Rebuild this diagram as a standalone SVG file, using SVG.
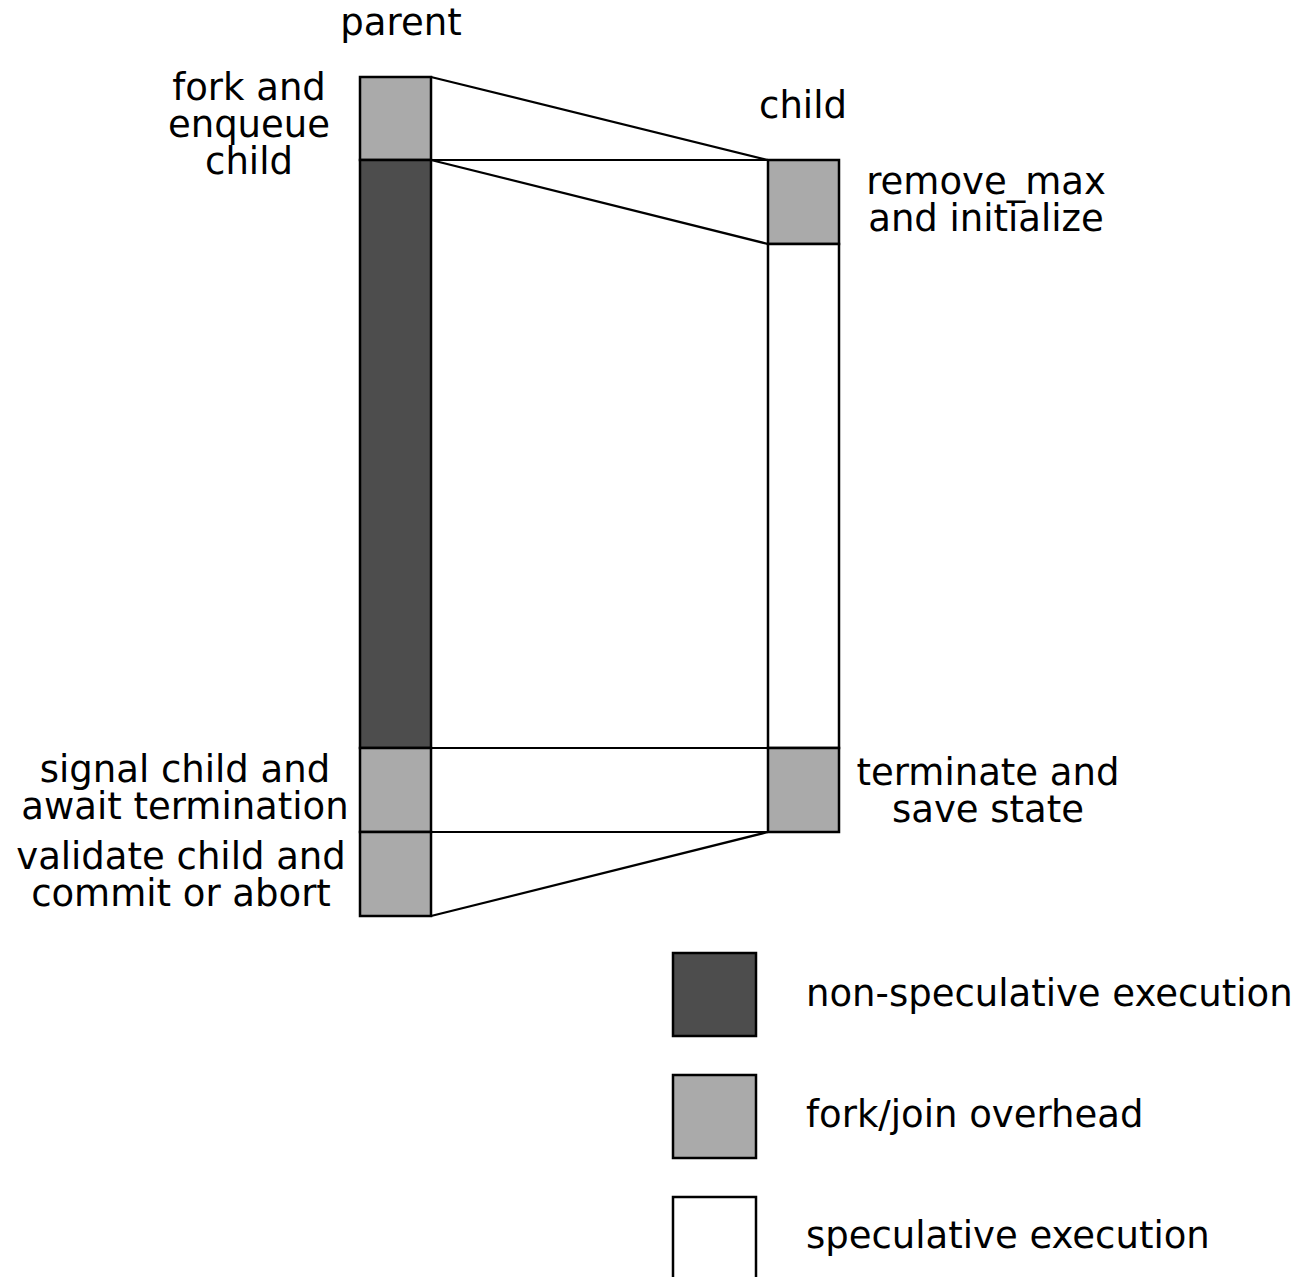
<svg xmlns="http://www.w3.org/2000/svg" width="1301" height="1277" viewBox="0 0 1301 1277">
<style>
rect{stroke:#000;stroke-width:2.5}
.d{fill:#4d4d4d}.g{fill:#aaaaaa}.w{fill:#fff}
line{stroke:#000;stroke-width:2.2}
text{font-family:"DejaVu Sans",sans-serif;font-size:37px;fill:#000}
.m{text-anchor:middle}
</style>
<rect x="0" y="0" width="1301" height="1277" fill="#fff" style="stroke:none"/>
<g id="connectors">
<line x1="431" y1="77" x2="768" y2="160"/>
<line x1="431" y1="160" x2="768" y2="160"/>
<line x1="431" y1="160" x2="768" y2="244"/>
<line x1="431" y1="748" x2="768" y2="748"/>
<line x1="431" y1="832" x2="768" y2="832"/>
<line x1="431" y1="916" x2="768" y2="832"/>
</g>
<g id="parent-fork"><rect class="g" x="360" y="77" width="71" height="83"/></g>
<g id="parent-nonspec"><rect class="d" x="360" y="160" width="71" height="588"/></g>
<g id="parent-signal"><rect class="g" x="360" y="748" width="71" height="84"/></g>
<g id="parent-validate"><rect class="g" x="360" y="832" width="71" height="84"/></g>
<g id="child-init"><rect class="g" x="768" y="160" width="71" height="84"/></g>
<g id="child-spec"><rect class="w" x="768" y="244" width="71" height="504"/></g>
<g id="child-term"><rect class="g" x="768" y="748" width="71" height="84"/></g>
<g id="labels">
<text class="m" x="401" y="35">parent</text>
<text class="m" x="803" y="118">child</text>
<text class="m" x="249" y="100">fork and</text>
<text class="m" x="249" y="137">enqueue</text>
<text class="m" x="249" y="174">child</text>
<text class="m" x="986" y="194">remove_max</text>
<text class="m" x="986" y="231">and initialize</text>
<text class="m" x="185" y="782">signal child and</text>
<text class="m" x="185" y="819">await termination</text>
<text class="m" x="181" y="869">validate child and</text>
<text class="m" x="181" y="906">commit or abort</text>
<text class="m" x="988" y="785">terminate and</text>
<text class="m" x="988" y="822">save state</text>
</g>
<g id="legend">
<rect class="d" x="673" y="953" width="83" height="83"/>
<rect class="g" x="673" y="1075" width="83" height="83"/>
<rect class="w" x="673" y="1197" width="83" height="100"/>
<text x="806" y="1006">non-speculative execution</text>
<text x="806" y="1127">fork/join overhead</text>
<text x="806" y="1248">speculative execution</text>
</g>
</svg>
